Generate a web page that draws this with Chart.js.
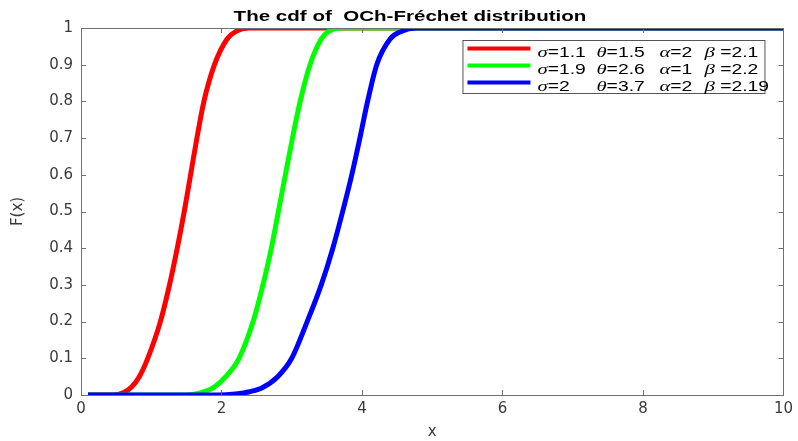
<!DOCTYPE html>
<html>
<head>
<meta charset="utf-8">
<script src="https://cdn.jsdelivr.net/npm/chart.js@4/dist/chart.umd.min.js"></script>
<style>
  html, body { margin: 0; padding: 0; background: #fff; }
</style>
</head>
<body>
<canvas id="cdfChart" width="798" height="441"></canvas>
<script>
// parameters shown in the legend
const sigmas = [1.1, 1.9, 2];
const thetas = [1.5, 2.6, 3.7];
const alphas = [2, 1, 2];
const betas = [2.1, 2.2, 2.19];
const lineColors = ['#ff0000', '#00ff00', '#0000ff'];

// points
const redX   = [0.1, 0.45, 0.6, 0.72, 0.83, 0.95, 1.13, 1.26, 1.37, 1.47, 1.56, 1.65, 1.75, 1.9, 2.08, 2.2, 2.38, 10];
const redF   = [0, 0, 0.006, 0.022, 0.05, 0.1, 0.2, 0.3, 0.4, 0.5, 0.6, 0.7, 0.8, 0.9, 0.97, 0.99, 1, 1];
const greenX = [0.1, 1.5, 1.7, 1.9, 2.08, 2.25, 2.45, 2.59, 2.71, 2.81, 2.91, 3.01, 3.12, 3.26, 3.42, 3.52, 3.68, 10];
const greenF = [0, 0, 0.006, 0.022, 0.054, 0.1, 0.2, 0.3, 0.4, 0.5, 0.6, 0.7, 0.8, 0.9, 0.97, 0.99, 1, 1];
const blueX  = [0.1, 1.95, 2.2, 2.4, 2.58, 2.8, 3.0, 3.22, 3.42, 3.585, 3.725, 3.855, 3.97, 4.08, 4.21, 4.4, 4.55, 4.78, 10];
const blueF  = [0, 0, 0.003, 0.009, 0.02, 0.05, 0.1, 0.2, 0.3, 0.4, 0.5, 0.6, 0.7, 0.8, 0.9, 0.97, 0.99, 1, 1];

const xTicks = [0, 2, 4, 6, 8, 10];
const yTicks = [0, 0.1, 0.2, 0.3, 0.4, 0.5, 0.6, 0.7, 0.8, 0.9, 1];

const chartTitle = 'The cdf of  OCh-Fréchet distribution';

function toPoints(xs, ys) {
    return xs.map((x, i) => ({ x: x, y: ys[i] }));
}

// pieces of each legend row, one per column
const legendRows = sigmas.map((s, i) => [
    'σ=' + s, 'θ=' + thetas[i], 'α=' + alphas[i], 'β =' + betas[i]
]);

const axisColor = '#707070';
const textColor = '#3a3a3a';

// draws text where greek letters are italic serif, with horizontal stretch
function drawRich(ctx, str, x, y, sx) {
    let cx = x;
    for (const ch of str) {
        const greek = /[α-ωΑ-Ω]/.test(ch);
        ctx.font = greek ? 'italic 15px "Liberation Serif"' : '14px "Liberation Sans"';
        const w = ctx.measureText(ch).width * sx;
        ctx.save();
        ctx.translate(cx, y);
        ctx.scale(sx, 1);
        ctx.fillText(ch, 0, 0);
        ctx.restore();
        cx += w;
    }
}

const matlabFrame = {
    id: 'matlabFrame',
    afterDatasetsDraw(chart) {
        const ctx = chart.ctx;
        const a = chart.chartArea;
        const xs = chart.scales.x, ys = chart.scales.y;
        ctx.save();
        ctx.strokeStyle = axisColor;
        ctx.lineWidth = 1;
        ctx.strokeRect(Math.round(a.left) + 0.5, Math.round(a.top) + 0.5,
                       Math.round(a.right - a.left), Math.round(a.bottom - a.top));
        // inward ticks on all four sides
        ctx.beginPath();
        xTicks.forEach(v => {
            const px = Math.round(xs.getPixelForValue(v)) + 0.5;
            ctx.moveTo(px, a.bottom); ctx.lineTo(px, a.bottom - 5);
            ctx.moveTo(px, a.top); ctx.lineTo(px, a.top + 5);
        });
        yTicks.forEach(v => {
            const py = Math.round(ys.getPixelForValue(v)) + 0.5;
            ctx.moveTo(a.left, py); ctx.lineTo(a.left + 5, py);
            ctx.moveTo(a.right, py); ctx.lineTo(a.right - 5, py);
        });
        ctx.stroke();
        ctx.restore();
    },
    afterDraw(chart) {
        const ctx = chart.ctx;
        const a = chart.chartArea;
        ctx.save();

        // title
        ctx.fillStyle = '#000';
        ctx.font = 'bold 15px "Liberation Sans"';
        ctx.textAlign = 'center';
        ctx.textBaseline = 'alphabetic';
        ctx.translate(410, 21);
        ctx.scale(1.37, 1);
        ctx.fillText(chartTitle, 0, 0);
        ctx.restore();

        // legend box
        ctx.save();
        const boxL = a.right - 321, boxT = a.top + 12, boxW = 302, boxH = 53;
        ctx.fillStyle = '#fff';
        ctx.fillRect(boxL, boxT, boxW, boxH);
        ctx.strokeStyle = '#555';
        ctx.lineWidth = 1;
        ctx.strokeRect(boxL + 0.5, boxT + 0.5, boxW, boxH);
        const cols = [0, 59, 122, 167];
        legendRows.forEach((row, i) => {
            const ry = boxT + 8.5 + i * 17;
            ctx.strokeStyle = lineColors[i];
            ctx.lineWidth = 4;
            ctx.beginPath();
            ctx.moveTo(boxL + 5, ry);
            ctx.lineTo(boxL + 68, ry);
            ctx.stroke();
            ctx.fillStyle = '#000';
            ctx.textAlign = 'left';
            ctx.textBaseline = 'alphabetic';
            row.forEach((piece, j) => drawRich(ctx, piece, boxL + 75 + cols[j], ry + 8, 1.38));
        });
        ctx.restore();
    }
};

const tickFont = { family: '"DejaVu Sans"', size: 15 };

new Chart(document.getElementById('cdfChart').getContext('2d'), {
    type: 'line',
    data: {
        datasets: [
            { label: 'red',   data: toPoints(redX, redF),     borderColor: lineColors[0], order: 3 },
            { label: 'green', data: toPoints(greenX, greenF), borderColor: lineColors[1], order: 2 },
            { label: 'blue',  data: toPoints(blueX, blueF),   borderColor: lineColors[2], order: 1 }
        ]
    },
    options: {
        responsive: false,
        animation: false,
        devicePixelRatio: 1,
        datasets: {
            line: {
                borderWidth: 5,
                pointRadius: 0,
                fill: false,
                cubicInterpolationMode: 'monotone'
            }
        },
        layout: { padding: { top: 28, right: 12, bottom: 0, left: 0 } },
        plugins: {
            legend: { display: false },
            tooltip: { enabled: false }
        },
        scales: {
            x: {
                type: 'linear',
                min: 0,
                max: 10,
                afterBuildTicks: s => { s.ticks = xTicks.map(v => ({ value: v })); },
                afterFit: s => { s.height = 46; },
                grid: { display: false, drawTicks: false },
                border: { display: false },
                ticks: { font: tickFont, color: textColor, padding: 5, maxRotation: 0, callback: v => String(v) },
                title: { display: true, text: 'x', font: { family: '"DejaVu Sans"', size: 15 }, color: textColor, padding: { top: 0, bottom: 0 } }
            },
            y: {
                type: 'linear',
                min: 0,
                max: 1,
                afterBuildTicks: s => { s.ticks = yTicks.map(v => ({ value: v })); },
                afterFit: s => { s.width = 81; },
                grid: { display: false, drawTicks: false },
                border: { display: false },
                ticks: { font: tickFont, color: textColor, padding: 8, callback: v => String(v) },
                title: { display: true, text: 'F(x)', font: { family: '"DejaVu Sans"', size: 15 }, color: textColor, padding: { top: 9, bottom: 0 } }
            }
        }
    },
    plugins: [matlabFrame]
});
</script>
</body>
</html>
